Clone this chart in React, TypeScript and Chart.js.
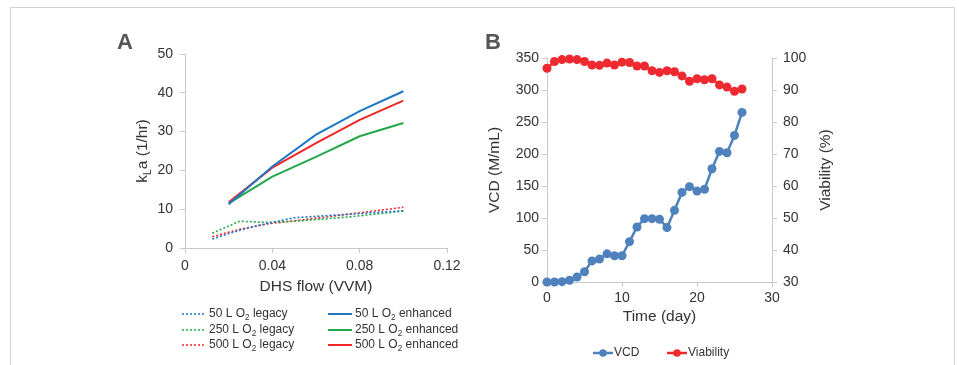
import React, { useEffect, useRef } from 'react';
import { Chart, registerables } from 'chart.js';
Chart.register(...registerables);

const FONT = '"Liberation Sans", Arial, Helvetica, sans-serif';
const TEXT = '#333333';
const AXIS = '#c9c9c9';

// ---------- Panel A data ----------
const flowEnhanced = [0.02, 0.04, 0.06, 0.08, 0.1];
const kla50Enhanced = [11.3, 21.0, 29.2, 35.3, 40.4];
const kla250Enhanced = [11.5, 18.4, 23.5, 28.8, 32.2];
const kla500Enhanced = [11.8, 20.7, 27.0, 33.0, 38.0];

const flowLegacy = [0.0125, 0.025, 0.0375, 0.05, 0.075, 0.1];
const kla50Legacy = [2.3, 4.6, 6.3, 7.8, 8.7, 9.6];
const kla250Legacy = [3.8, 6.9, 6.6, 6.9, 8.0, 9.5];
const kla500Legacy = [2.9, 4.8, 6.2, 7.0, 8.7, 10.5];

const flowTicks = [0, 0.04, 0.08, 0.12];
const flowTickLabels = ['0', '0.04', '0.08', '0.12'];
const klaTicks = [0, 10, 20, 30, 40, 50];

const labelsA = [
  '50 L O_{2} legacy',
  '250 L O_{2} legacy',
  '500 L O_{2} legacy',
  '50 L O_{2} enhanced',
  '250 L O_{2} enhanced',
  '500 L O_{2} enhanced',
];
const colorsA = ['#1f77c6', '#22a84b', '#f42626', '#1f77c6', '#22a84b', '#f42626'];

// ---------- Panel B data ----------
const days = [0, 1, 2, 3, 4, 5, 6, 7, 8, 9, 10, 11, 12, 13, 14, 15, 16, 17, 18, 19, 20, 21, 22, 23, 24, 25, 26];
const vcd = [0, 0, 0.5, 2.6, 7.8, 16, 33, 36, 44, 41, 41, 63, 86, 99, 99, 98, 85, 112, 140, 149, 142, 145, 177, 204, 202, 229, 265];
const viability = [96.8, 98.9, 99.5, 99.7, 99.5, 98.9, 97.8, 97.7, 98.4, 97.8, 98.7, 98.6, 97.5, 97.5, 96.0, 95.5, 96.0, 95.7, 94.4, 92.7, 93.5, 93.2, 93.5, 91.6, 90.9, 89.6, 90.3];
const dayTicks = [0, 10, 20, 30];
const vcdTicks = [0, 50, 100, 150, 200, 250, 300, 350];
const viabilityTicks = [30, 40, 50, 60, 70, 80, 90, 100];
const labelsB = ['VCD', 'Viability'];
const colorsB = ['#4f81bd', '#ee2a30'];

// ---------- helpers ----------
type Part = { t: string; sub: boolean };
function parseRich(s: string): Part[] {
  const parts: Part[] = [];
  const re = /_\{([^}]*)\}/g;
  let last = 0;
  let m: RegExpExecArray | null;
  while ((m = re.exec(s))) {
    if (m.index > last) parts.push({ t: s.slice(last, m.index), sub: false });
    parts.push({ t: m[1], sub: true });
    last = re.lastIndex;
  }
  if (last < s.length) parts.push({ t: s.slice(last), sub: false });
  return parts;
}

function drawRich(ctx: CanvasRenderingContext2D, s: string, x: number, y: number, size: number, align: 'left' | 'center', color: string, weight = 'normal') {
  const parts = parseRich(s);
  const subSize = size * 0.68;
  const widths = parts.map((p) => {
    ctx.font = `${weight} ${p.sub ? subSize : size}px ${FONT}`;
    return ctx.measureText(p.t).width;
  });
  const total = widths.reduce((a, b) => a + b, 0);
  let cx = align === 'center' ? x - total / 2 : x;
  ctx.textBaseline = 'middle';
  ctx.textAlign = 'left';
  ctx.fillStyle = color;
  parts.forEach((p, i) => {
    ctx.font = `${weight} ${p.sub ? subSize : size}px ${FONT}`;
    ctx.fillText(p.t, cx, p.sub ? y + size * 0.3 : y);
    cx += widths[i];
  });
}

function drawRotated(ctx: CanvasRenderingContext2D, s: string, x: number, y: number, size: number, color: string) {
  ctx.save();
  ctx.translate(x, y);
  ctx.rotate(-Math.PI / 2);
  drawRich(ctx, s, 0, 0, size, 'center', color);
  ctx.restore();
}

const tickFont = { family: FONT, size: 14 };

function axisCommon(values: number[], labels?: string[]) {
  return {
    afterBuildTicks: (scale: any) => {
      scale.ticks = values.map((v) => ({ value: v }));
    },
    ticks: {
      font: tickFont,
      color: TEXT,
      callback: (v: any, i: number) => (labels ? labels[i] : String(v)),
    },
    grid: { display: true, drawOnChartArea: false, drawTicks: true, tickLength: 5, color: AXIS, lineWidth: 1 },
    border: { display: true, color: AXIS, width: 1 },
  };
}

function PanelA() {
  const ref = useRef<HTMLCanvasElement>(null);
  useEffect(() => {
    const series = [
      { xs: flowLegacy, ys: kla50Legacy, legacy: true },
      { xs: flowLegacy, ys: kla250Legacy, legacy: true },
      { xs: flowLegacy, ys: kla500Legacy, legacy: true },
      { xs: flowEnhanced, ys: kla50Enhanced, legacy: false },
      { xs: flowEnhanced, ys: kla250Enhanced, legacy: false },
      { xs: flowEnhanced, ys: kla500Enhanced, legacy: false },
    ];
    const datasets = series.map((s, i) => ({
      label: labelsA[i],
      data: s.xs.map((x, j) => ({ x, y: s.ys[j] })),
      borderColor: colorsA[i],
      backgroundColor: colorsA[i],
      borderWidth: s.legacy ? 1.6 : 2,
      borderDash: s.legacy ? [2, 2] : [],
      pointRadius: 0,
      tension: 0,
    }));
    const decor = {
      id: 'decorA',
      afterDraw(chart: any) {
        const ctx: CanvasRenderingContext2D = chart.ctx;
        const a = chart.chartArea;
        ctx.save();
        ctx.font = `bold 22px ${FONT}`;
        ctx.fillStyle = '#555555';
        ctx.textAlign = 'center';
        ctx.textBaseline = 'middle';
        ctx.fillText('A', a.left - 60, a.top - 11);
        drawRich(ctx, 'DHS flow (VVM)', (a.left + a.right) / 2, a.bottom + 39, 15.5, 'center', TEXT);
        drawRotated(ctx, 'k_{L}a (1/hr)', a.left - 42, (a.top + a.bottom) / 2, 15.5, TEXT);
        const colX = [182, 328];
        const rowY = [314, 330, 345];
        datasets.forEach((d, i) => {
          const col = i < 3 ? 0 : 1;
          const row = i % 3;
          const x0 = colX[col];
          const y = rowY[row];
          ctx.beginPath();
          ctx.strokeStyle = d.borderColor;
          ctx.lineWidth = d.borderWidth;
          ctx.setLineDash(d.borderDash as number[]);
          ctx.moveTo(x0, y);
          ctx.lineTo(x0 + 24, y);
          ctx.stroke();
          ctx.setLineDash([]);
          drawRich(ctx, d.label, x0 + 27, y, 12, 'left', TEXT);
        });
        ctx.restore();
      },
    };
    const chart = new Chart(ref.current!, {
      type: 'line',
      data: { datasets },
      options: {
        animation: false,
        responsive: false,
        devicePixelRatio: 1,
        layout: { padding: { left: 100, top: 54, right: 33, bottom: 0 } },
        plugins: { legend: { display: false }, tooltip: { enabled: false } },
        scales: {
          x: {
            type: 'linear',
            min: 0,
            max: 0.12,
            ...axisCommon(flowTicks, flowTickLabels),
            ticks: { ...axisCommon(flowTicks, flowTickLabels).ticks, padding: 5, maxRotation: 0 },
            afterFit: (s: any) => { s.height = 117; },
          },
          y: {
            type: 'linear',
            min: 0,
            max: 50,
            ...axisCommon(klaTicks),
            ticks: { ...axisCommon(klaTicks).ticks, padding: 7 },
            afterFit: (s: any) => { s.width = 85; },
          },
        },
      } as any,
      plugins: [decor],
    });
    return () => chart.destroy();
  }, []);
  return <canvas ref={ref} width={480} height={365} style={{ position: 'absolute', left: 0, top: 0, width: 480, height: 365 }} />;
}

function PanelB() {
  const ref = useRef<HTMLCanvasElement>(null);
  useEffect(() => {
    const datasets = [
      {
        label: labelsB[0],
        data: days.map((d, i) => ({ x: d, y: vcd[i] })),
        yAxisID: 'y',
        borderColor: colorsB[0],
        backgroundColor: colorsB[0],
        borderWidth: 2.5,
        pointRadius: 4.5,
        pointBorderWidth: 0,
        tension: 0,
        clip: false,
      },
      {
        label: labelsB[1],
        data: days.map((d, i) => ({ x: d, y: viability[i] })),
        yAxisID: 'y1',
        borderColor: colorsB[1],
        backgroundColor: colorsB[1],
        borderWidth: 2.5,
        pointRadius: 4.5,
        pointBorderWidth: 0,
        tension: 0,
        clip: false,
      },
    ];
    const decor = {
      id: 'decorB',
      afterDraw(chart: any) {
        const ctx: CanvasRenderingContext2D = chart.ctx;
        const a = chart.chartArea;
        ctx.save();
        ctx.font = `bold 22px ${FONT}`;
        ctx.fillStyle = '#555555';
        ctx.textAlign = 'center';
        ctx.textBaseline = 'middle';
        ctx.fillText('B', a.left - 54, a.top - 15);
        drawRich(ctx, 'Time (day)', (a.left + a.right) / 2, a.bottom + 35, 15.5, 'center', TEXT);
        drawRotated(ctx, 'VCD (M/mL)', a.left - 52, (a.top + a.bottom) / 2, 15.5, TEXT);
        drawRotated(ctx, 'Viability (%)', a.right + 54, (a.top + a.bottom) / 2, 15.5, TEXT);
        const xs = [113, 187];
        const y = 353;
        datasets.forEach((d, i) => {
          const x0 = xs[i];
          ctx.beginPath();
          ctx.strokeStyle = d.borderColor;
          ctx.lineWidth = 2.5;
          ctx.moveTo(x0, y);
          ctx.lineTo(x0 + 20, y);
          ctx.stroke();
          ctx.beginPath();
          ctx.fillStyle = d.backgroundColor;
          ctx.arc(x0 + 10, y, 3.8, 0, Math.PI * 2);
          ctx.fill();
          drawRich(ctx, d.label, x0 + 21, y, 12, 'left', TEXT);
        });
        ctx.restore();
      },
    };
    const chart = new Chart(ref.current!, {
      type: 'line',
      data: { datasets },
      options: {
        animation: false,
        responsive: false,
        devicePixelRatio: 1,
        layout: { padding: { left: 10, top: 58, right: 10, bottom: 0 } },
        plugins: { legend: { display: false }, tooltip: { enabled: false } },
        scales: {
          x: {
            type: 'linear',
            min: 0,
            max: 30,
            ...axisCommon(dayTicks),
            ticks: { ...axisCommon(dayTicks).ticks, padding: 3, maxRotation: 0 },
            afterFit: (s: any) => { s.height = 83; },
          },
          y: {
            type: 'linear',
            position: 'left',
            min: 0,
            max: 350,
            ...axisCommon(vcdTicks),
            ticks: { ...axisCommon(vcdTicks).ticks, padding: 3 },
            afterFit: (s: any) => { s.width = 57; },
          },
          y1: {
            type: 'linear',
            position: 'right',
            min: 30,
            max: 100,
            ...axisCommon(viabilityTicks),
            ticks: { ...axisCommon(viabilityTicks).ticks, padding: 6 },
            afterFit: (s: any) => { s.width = 177; },
          },
        },
      } as any,
      plugins: [decor],
    });
    return () => chart.destroy();
  }, []);
  return <canvas ref={ref} width={479} height={365} style={{ position: 'absolute', left: 480, top: 0, width: 479, height: 365 }} />;
}

export default function App() {
  return (
    <div style={{ position: 'fixed', left: 0, top: 0, width: 959, height: 365, overflow: 'hidden', background: '#ffffff' }}>
      <div style={{ position: 'absolute', left: 10, top: 7, width: 945, height: 420, border: '1px solid #d2d2d2', boxSizing: 'border-box' }} />
      <PanelA />
      <PanelB />
    </div>
  );
}
